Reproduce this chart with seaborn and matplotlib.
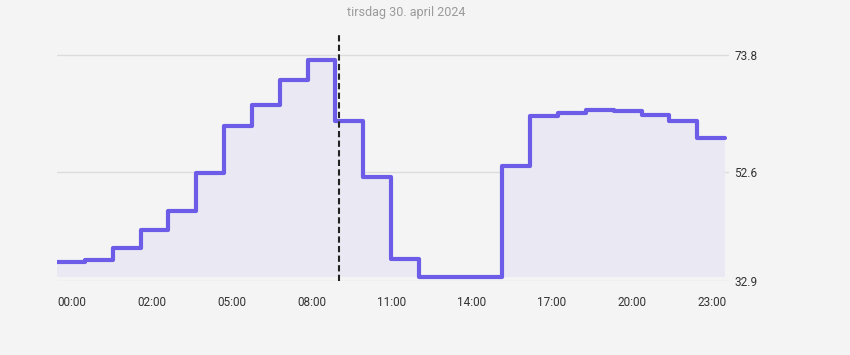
import numpy as np
import pandas as pd
import matplotlib
matplotlib.use("Agg")
import matplotlib.pyplot as plt
import seaborn as sns

# ---- data ----
hours = list(range(24))
values = [36.35, 36.66, 38.96, 42.1, 45.49, 52.44, 60.97, 64.78, 69.26, 72.95,
          61.88, 51.77, 36.84, 33.63, 33.63, 33.63, 53.66, 62.79, 63.39, 63.87,
          63.69, 62.91, 61.88, 58.85]
x_labels = ["00:00", "02:00", "05:00", "08:00", "11:00", "14:00", "17:00", "20:00", "23:00"]
y_ticks = [32.9, 52.6, 73.8]
now_marker = 10.13
title = "tirsdag 30. april 2024"

sns.set_theme(style="white")
plt.rcParams["font.family"] = ["Roboto", "DejaVu Sans"]

bg = "#f3f4f3"
line_c = "#6c5ce7"
fill_c = "#eae9f3"

fig = plt.figure(figsize=(8.5, 3.55), dpi=100, facecolor=bg)
ax = fig.add_axes([57 / 850, (355 - 281) / 355, 672 / 850, (281 - 33) / 355])
ax.set_facecolor(bg)

xs = hours + [24]
ys = values + [values[-1]]
df = pd.DataFrame({"x": xs, "y": ys})

ax.fill_between(df["x"], min(values), df["y"], step="post", color=fill_c, lw=0, zorder=1)
sns.lineplot(data=df, x="x", y="y", ax=ax, drawstyle="steps-post", color=line_c,
             lw=3.0, zorder=3, estimator=None, sort=False)

ax.axvline(now_marker, color="#222222", lw=1.5, dashes=(3, 1.6), zorder=4)

ax.set_xlim(0, 24 * 672 / 668)
ax.set_ylim(32.9, 77.8)

for t in y_ticks:
    ax.axhline(t, color="#dcdcdc", lw=1, zorder=0)

ax.yaxis.tick_right()
ax.set_yticks(y_ticks)
ax.set_yticklabels([f"{t:.1f}" for t in y_ticks], fontsize=8.5, color="#333333")
ax.tick_params(axis="y", length=0, pad=4)

tick_pos = [k * 23 / 8 for k in range(len(x_labels))]
ax.set_xticks(tick_pos)
ax.set_xticklabels(x_labels, fontsize=8.5, color="#333333", ha="left")
ax.tick_params(axis="x", length=0, pad=11)

ax.set_xlabel("")
ax.set_ylabel("")
for s in ax.spines.values():
    s.set_visible(False)

fig.text(406 / 850, 1 - 12.5 / 355, title, ha="center", va="center", fontsize=9, color="#9a9a9a")

fig.savefig("out.png", dpi=100, facecolor=bg)
